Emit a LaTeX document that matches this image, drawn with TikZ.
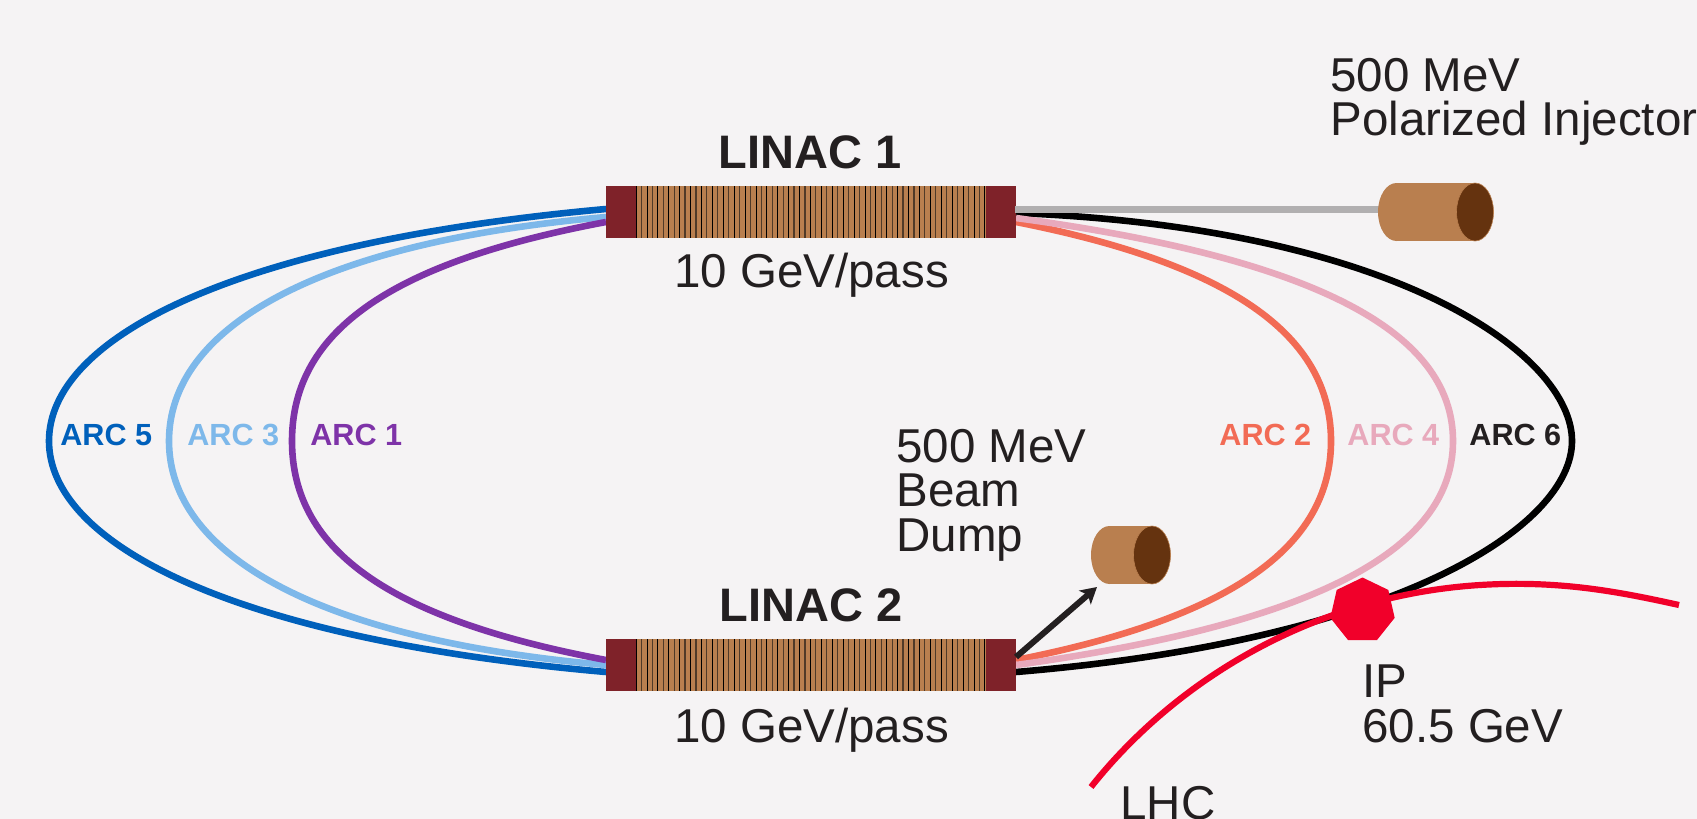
\documentclass[tikz,border=0pt]{standalone}
\usepackage{fontspec}
\setmainfont{Liberation Sans}
\usetikzlibrary{shapes.geometric,arrows.meta}
\definecolor{bgc}{HTML}{F5F3F4}
\definecolor{blockred}{HTML}{7F2229}
\definecolor{copper}{HTML}{B97F4F}
\definecolor{dark}{HTML}{65330F}
\definecolor{stripe}{HTML}{503A28}
\definecolor{ink}{HTML}{231F20}
\definecolor{arcA}{HTML}{7E33A8}
\definecolor{arcB}{HTML}{F26B55}
\definecolor{arcC}{HTML}{7DB8EA}
\definecolor{arcD}{HTML}{E8A9BC}
\definecolor{arcE}{HTML}{0060BB}
\definecolor{lhcred}{HTML}{F1002A}
\definecolor{greyline}{HTML}{B1AFB0}
\tikzset{
 endblock/.style={fill=blockred,draw=none,minimum width=30*.5pt,minimum height=52*.5pt,inner sep=0,anchor=north west},
 cavity/.style={fill=copper,draw=none,minimum width=351*.5pt,minimum height=52*.5pt,inner sep=0,anchor=north west},
 arcline/.style={line width=3.3pt},
 big/.style={font=\fontsize{23.75pt}{28pt}\selectfont,text=ink,anchor=base west,inner sep=0},
 title/.style={font=\bfseries\fontsize{23.5pt}{28pt}\selectfont,text=ink,anchor=base,inner sep=0},
 arclabel/.style={font=\bfseries\fontsize{15.3pt}{18pt}\selectfont,anchor=base west,inner sep=0},
 capface/.style={ellipse,fill=dark,draw=copper,line width=.3pt,minimum width=37*.5pt,minimum height=58*.5pt,inner sep=0},
 capback/.style={ellipse,fill=copper,minimum width=37*.5pt,minimum height=58*.5pt,inner sep=0},
}
\begin{document}
\begin{tikzpicture}[x=.5pt,y=-.5pt]
\useasboundingbox (0,0) rectangle (1697,819);
\fill[bgc] (0,0) rectangle (1697,819);
% arc end points
\coordinate (e5t) at (606,209); \coordinate (e3t) at (606,217); \coordinate (e1t) at (606,222);
\coordinate (e5b) at (606,672); \coordinate (e3b) at (606,665); \coordinate (e1b) at (606,660);
\coordinate (e6t) at (1016,213); \coordinate (e4t) at (1016,218); \coordinate (e2t) at (1016,222);
\coordinate (e6b) at (1016,672); \coordinate (e4b) at (1016,665); \coordinate (e2b) at (1016,660);
\coordinate (m5) at (49,441); \coordinate (m3) at (169,441); \coordinate (m1) at (292,441);
\coordinate (m6) at (1572,441); \coordinate (m4) at (1453,441); \coordinate (m2) at (1331,441);
% arcs
\draw[arcline,arcE] (e5t) .. controls (230,243) and (49,339) .. (m5) .. controls (49,543) and (230,639) .. (e5b);
\draw[arcline,arcC] (e3t) .. controls (311,243) and (169,330) .. (m3) .. controls (169,552) and (311,639) .. (e3b);
\draw[arcline,arcA] (e1t) .. controls (393,262) and (292,330) .. (m1) .. controls (292,552) and (393,620) .. (e1b);
\draw[arcline,black] (e6t) .. controls (1400,228) and (1572,356) .. (m6) .. controls (1572,526) and (1400,640) .. (e6b);
\draw[arcline,arcB] (e2t) .. controls (1229,264) and (1331,334) .. (m2) .. controls (1331,548) and (1229,618) .. (e2b);
\draw[arcline,arcD] (e4t) .. controls (1311,258) and (1453,330) .. (m4) .. controls (1453,552) and (1311,624) .. (e4b);
% linacs
\node[cavity] (cav1) at (636,186) {};
\node[cavity] (cav2) at (636,639) {};
\foreach \yy in {186,639}{
 \foreach \i in {0,...,64}{
  \pgfmathsetmacro\xx{636+\i*5.45}
  \pgfmathparse{int(mod(\i,2))}
  \ifnum\pgfmathresult=0
   \draw[black,line width=.4pt] (\xx,\yy) -- ++(0,52);
  \else
   \draw[stripe,line width=.6pt] (\xx,\yy) -- ++(0,52);
  \fi
 }
}
\node[endblock] (b1l) at (606,186) {};
\node[endblock] (b1r) at (986,186) {};
\node[endblock] (b2l) at (606,639) {};
\node[endblock] (b2r) at (986,639) {};
% grey line
\coordinate (gs) at (1015,209.5);
\coordinate (ge) at (1385,209.5);
\draw[greyline,line width=3.3pt] (gs) -- (ge);
% injector
\fill[copper] (1396,183) rectangle (1475,241);
\node[capback] (injb) at (1396.5,212) {};
\node[capface] (inj) at (1475,212) {};
% dump
\fill[copper] (1109.5,526) rectangle (1152,584);
\node[capback] (dumpb) at (1109.5,555) {};
\node[capface] (dump) at (1152,555) {};
\coordinate (as) at (1016,657);
\coordinate (ae) at (1097,587);
\draw[ink,line width=3pt,-{Stealth[length=8pt,width=9pt,inset=2pt]}] (as) -- (ae);
% LHC
\coordinate (lhs) at (1091,787);
\coordinate (lhe) at (1679,605);
\draw[lhcred,line width=3.1pt] (lhs) .. controls (1180,675) and (1320,595) .. (1480,585) .. controls (1560,580) and (1620,592) .. (lhe);
\node[regular polygon,regular polygon sides=7,fill=lhcred,minimum size=66*.5pt,inner sep=0] (ip) at (1362.5,610.5) {};
% text
\node[title] (t1) at (810,168) {LINAC 1};
\node[title] (t2) at (811,621) {LINAC 2};
\node[big,anchor=base] (p1) at (811.5,287) {10 GeV/pass};
\node[big,anchor=base] (p2) at (811.5,742) {10 GeV/pass};
\node[big] (i1) at (1330,91) {500 MeV};
\node[big] (i2) at (1330,135) {Polarized Injector};
\node[big] (d1) at (896,462) {500 MeV};
\node[big] (d2) at (896,506) {Beam};
\node[big] (d3) at (896,551) {Dump};
\node[big] (ip1) at (1362,697) {IP};
\node[big] (ip2) at (1362,742) {60.5 GeV};
\node[big] (lhc) at (1120,819) {LHC};
\node[arclabel,arcE] (l5) at (60,445) {ARC 5};
\node[arclabel,arcC] (l3) at (187,445) {ARC 3};
\node[arclabel,arcA] (l1) at (310,445) {ARC 1};
\node[arclabel,arcB] (l2) at (1219,445) {ARC 2};
\node[arclabel,arcD] (l4) at (1347,445) {ARC 4};
\node[arclabel,ink] (l6) at (1469,445) {ARC 6};
\end{tikzpicture}
\end{document}
